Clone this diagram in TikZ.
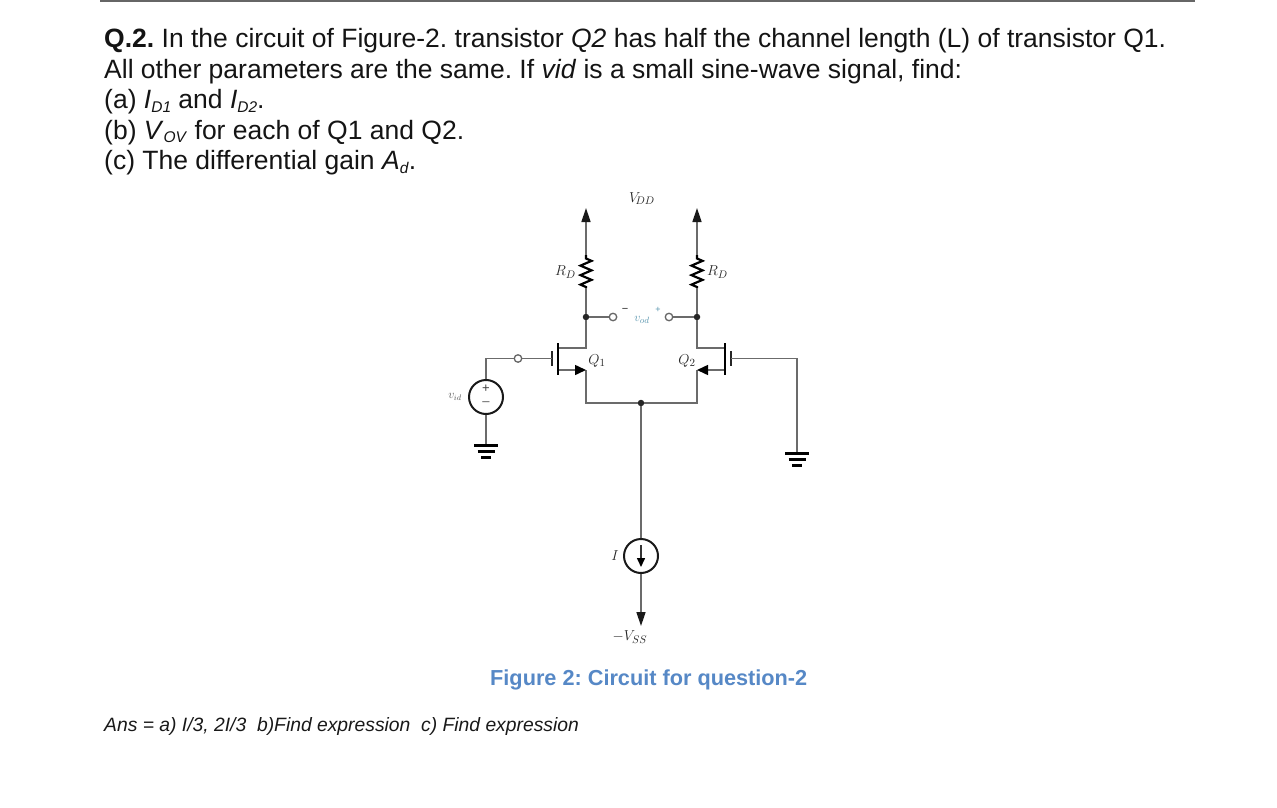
\documentclass[tikz,border=0pt]{standalone}
\usepackage{fontspec}
\setmainfont{Liberation Sans}
\usetikzlibrary{decorations.pathmorphing,arrows.meta}
\newcommand{\subtxt}[1]{{\fontsize{15.5}{18}\selectfont\raisebox{-3.5pt}{#1}}}
\tikzset{
  x=1pt,y=-1pt,
  wire/.style={draw=black!58,line width=1.5pt},
  bar/.style={draw=black,line width=2.8pt},
  gbar/.style={draw=black!85,line width=2.5pt},
  term/.style={circle,draw=black!60,fill=white,line width=1.3pt,inner sep=0pt,minimum size=7.5pt},
  dot/.style={circle,fill=black!85,inner sep=0pt,minimum size=6.5pt},
  src/.style={circle,draw=black!90,fill=white,line width=2pt,inner sep=0pt,minimum size=34pt},
  res/.style={draw=black,line width=2.2pt,decorate,decoration={zigzag,segment length=9.5pt,amplitude=5.5pt,pre length=1pt,post length=1pt}},
  headarrow/.style={wire,-{Triangle[length=14pt,width=9pt,fill=black!90,color=black!90]}},
  q/.style={anchor=base west,inner sep=0pt,text=black!92,font=\fontsize{26.5}{30}\selectfont},
  lab/.style={inner sep=0pt,text=black!85,font=\fontsize{15}{15}\selectfont},
  gndbar/.style={draw=black,line width=2.8pt},
  pin/.style={inner sep=0pt,minimum size=0pt}
}
\definecolor{capblue}{RGB}{86,136,198}
\definecolor{vodcol}{RGB}{90,150,175}
\begin{document}
\frenchspacing
\begin{tikzpicture}
\useasboundingbox (0,0) rectangle (1277,808);
\coordinate (ruleL) at (100,1.2);
\coordinate (ruleR) at (1195,1.2);
\draw[draw=black!60,line width=1.4pt] (ruleL) -- (ruleR);

\node[q] (t1) at (104,47.5) {\textbf{Q.2.} In the circuit of Figure-2. transistor \textit{Q2} has half the channel length (L) of transistor Q1.};
\node[q] (t2) at (104,78) {All other parameters are the same. If \textit{vid} is a small sine-wave signal, find:};
\node[q] (t3) at (104,108.5) {(a) \textit{I}\subtxt{\textit{D1}} and \textit{I}\subtxt{\textit{D2}}.};
\node[q] (t4) at (104,139) {(b) \textit{V}\subtxt{\textit{OV}} for each of Q1 and Q2.};
\node[q] (t5) at (104,169.5) {(c) The differential gain \textit{A}\subtxt{\textit{d}}.};
\node[anchor=base west,inner sep=0pt,text=capblue,font=\fontsize{21.7}{24}\selectfont\bfseries] (cap) at (490,685) {Figure 2: Circuit for question-2};
\node[anchor=base west,inner sep=0pt,text=black!90,font=\fontsize{19.3}{22}\selectfont\itshape] (ans) at (104,731) {Ans = a) I/3, 2I/3 \ b)Find expression \ c) Find expression};

% rails
\coordinate (vL) at (586,208);
\coordinate (vR) at (697,208);
\coordinate (rLt) at (586,255);
\coordinate (rLb) at (586,288);
\coordinate (rRt) at (697,255);
\coordinate (rRb) at (697,288);
\node[dot,minimum size=6.5pt] (dL) at (586,317) {};
\node[dot,minimum size=6.5pt] (dR) at (697,317) {};
\node[term] (oL) at (613,317) {};
\node[term] (oR) at (669,317) {};
\coordinate (dQ1) at (586,348);
\coordinate (dQ2) at (697,348);
\coordinate (cQ1) at (558,348);
\coordinate (cQ2) at (725,348);
\coordinate (sQ1a) at (558,370);
\coordinate (sQ2a) at (725,370);
\coordinate (sQ1) at (586,370);
\coordinate (sQ2) at (697,370);
\coordinate (bQ1) at (586,403);
\coordinate (bQ2) at (697,403);
\node[dot] (J) at (641,403) {};

\draw[headarrow] (rLt) -- (vL);
\draw[headarrow] (rRt) -- (vR);
\draw[res] (rLb) -- (rLt);
\draw[res] (rRb) -- (rRt);
\draw[wire] (rLb) -- (dL);
\draw[wire] (rRb) -- (dR);
\draw[wire] (dL) -- (oL);
\draw[wire] (dR) -- (oR);
\draw[wire] (dL) -- (dQ1) -- (cQ1);
\draw[wire] (dR) -- (dQ2) -- (cQ2);
\draw[wire] (sQ1) -- (bQ1) -- (J);
\draw[wire] (sQ2) -- (bQ2) -- (J);
\draw[wire,-{Triangle[length=11pt,width=10pt,fill=black,color=black]}] (sQ1a) -- (sQ1);
\draw[wire,-{Triangle[length=11pt,width=10pt,fill=black,color=black]}] (sQ2a) -- (sQ2);

% MOS gates
\coordinate (chQ1t) at (558,343);
\coordinate (chQ1b) at (558,374.5);
\coordinate (gQ1t) at (552,351);
\coordinate (gQ1b) at (552,366);
\coordinate (chQ2t) at (725,343);
\coordinate (chQ2b) at (725,374.5);
\coordinate (gQ2t) at (731,351);
\coordinate (gQ2b) at (731,366);
\coordinate (gQ1) at (552,358.5);
\coordinate (gQ2) at (731,358.5);
\draw[bar] (chQ1t) -- (chQ1b);
\draw[gbar] (gQ1t) -- (gQ1b);
\draw[bar] (chQ2t) -- (chQ2b);
\draw[gbar] (gQ2t) -- (gQ2b);

% left input
\node[term] (oG) at (518,358.5) {};
\node[src] (vs) at (486,397) {};
\coordinate (cornL) at (486,358.5);
\draw[wire] (gQ1) -- (oG);
\draw[wire] (oG) -- (cornL) -- (vs);
\node[inner sep=0pt,text=black!75,font=\fontsize{13}{13}\selectfont,text height=7pt,text depth=0pt] (plus) at (486,389) {+};
\node[inner sep=0pt,text=black!65,font=\fontsize{13}{13}\selectfont,text height=3pt,text depth=0pt] (minus) at (486,403.5) {\textendash};

% grounds
\coordinate (gndL) at (486,445.5);
\coordinate (gndR) at (797,453.5);
\coordinate (cornR) at (797,358.5);
\draw[wire] (vs) -- (gndL);
\draw[wire] (gQ2) -- (cornR) -- (gndR);
\foreach \p in {gndL,gndR}{
  \draw[gndbar] ([xshift=-12pt]\p) -- ([xshift=12pt]\p);
  \draw[gndbar] ([xshift=-8.5pt,yshift=-6pt]\p) -- ([xshift=8.5pt,yshift=-6pt]\p);
  \draw[gndbar] ([xshift=-5pt,yshift=-12pt]\p) -- ([xshift=5pt,yshift=-12pt]\p);
}

% current source
\node[src] (cs) at (641,556) {};
\coordinate (vss) at (641,626);
\draw[wire] (J) -- (cs);
\draw[headarrow] (cs) -- (vss);
\coordinate (csT) at (641,545);
\coordinate (csB) at (641,567);
\draw[draw=black!80,line width=1.5pt,-{Triangle[length=9pt,width=8pt,fill=black,color=black]}] (csT) -- (csB);

% labels
\node[lab] (lvdd) at (642,198.5) {$V_{\!DD}$};
\node[lab] (lrdl) at (565.5,272) {$R_D$};
\node[lab] (lrdr) at (717.5,272) {$R_D$};
\node[lab,text=vodcol,font=\fontsize{13}{13}\selectfont] (lvod) at (642,320) {$v_{od}$};
\node[lab,font=\fontsize{11}{11}\selectfont] (lm) at (625,310.5) {\textminus};
\node[lab,text=vodcol,font=\fontsize{9}{9}\selectfont] (lp) at (658,310) {+};
\node[lab,font=\fontsize{15}{15}\selectfont] (lq1) at (597,360.5) {$Q_1$};
\node[lab,font=\fontsize{15}{15}\selectfont] (lq2) at (687,360.5) {$Q_2$};
\node[lab,text=black!65,font=\fontsize{12}{12}\selectfont] (lvid) at (455,397) {$v_{id}$};
\node[lab] (li) at (615,556) {$I$};
\node[lab] (lvss) at (630,637) {$-V_{SS}$};
\end{tikzpicture}
\end{document}
